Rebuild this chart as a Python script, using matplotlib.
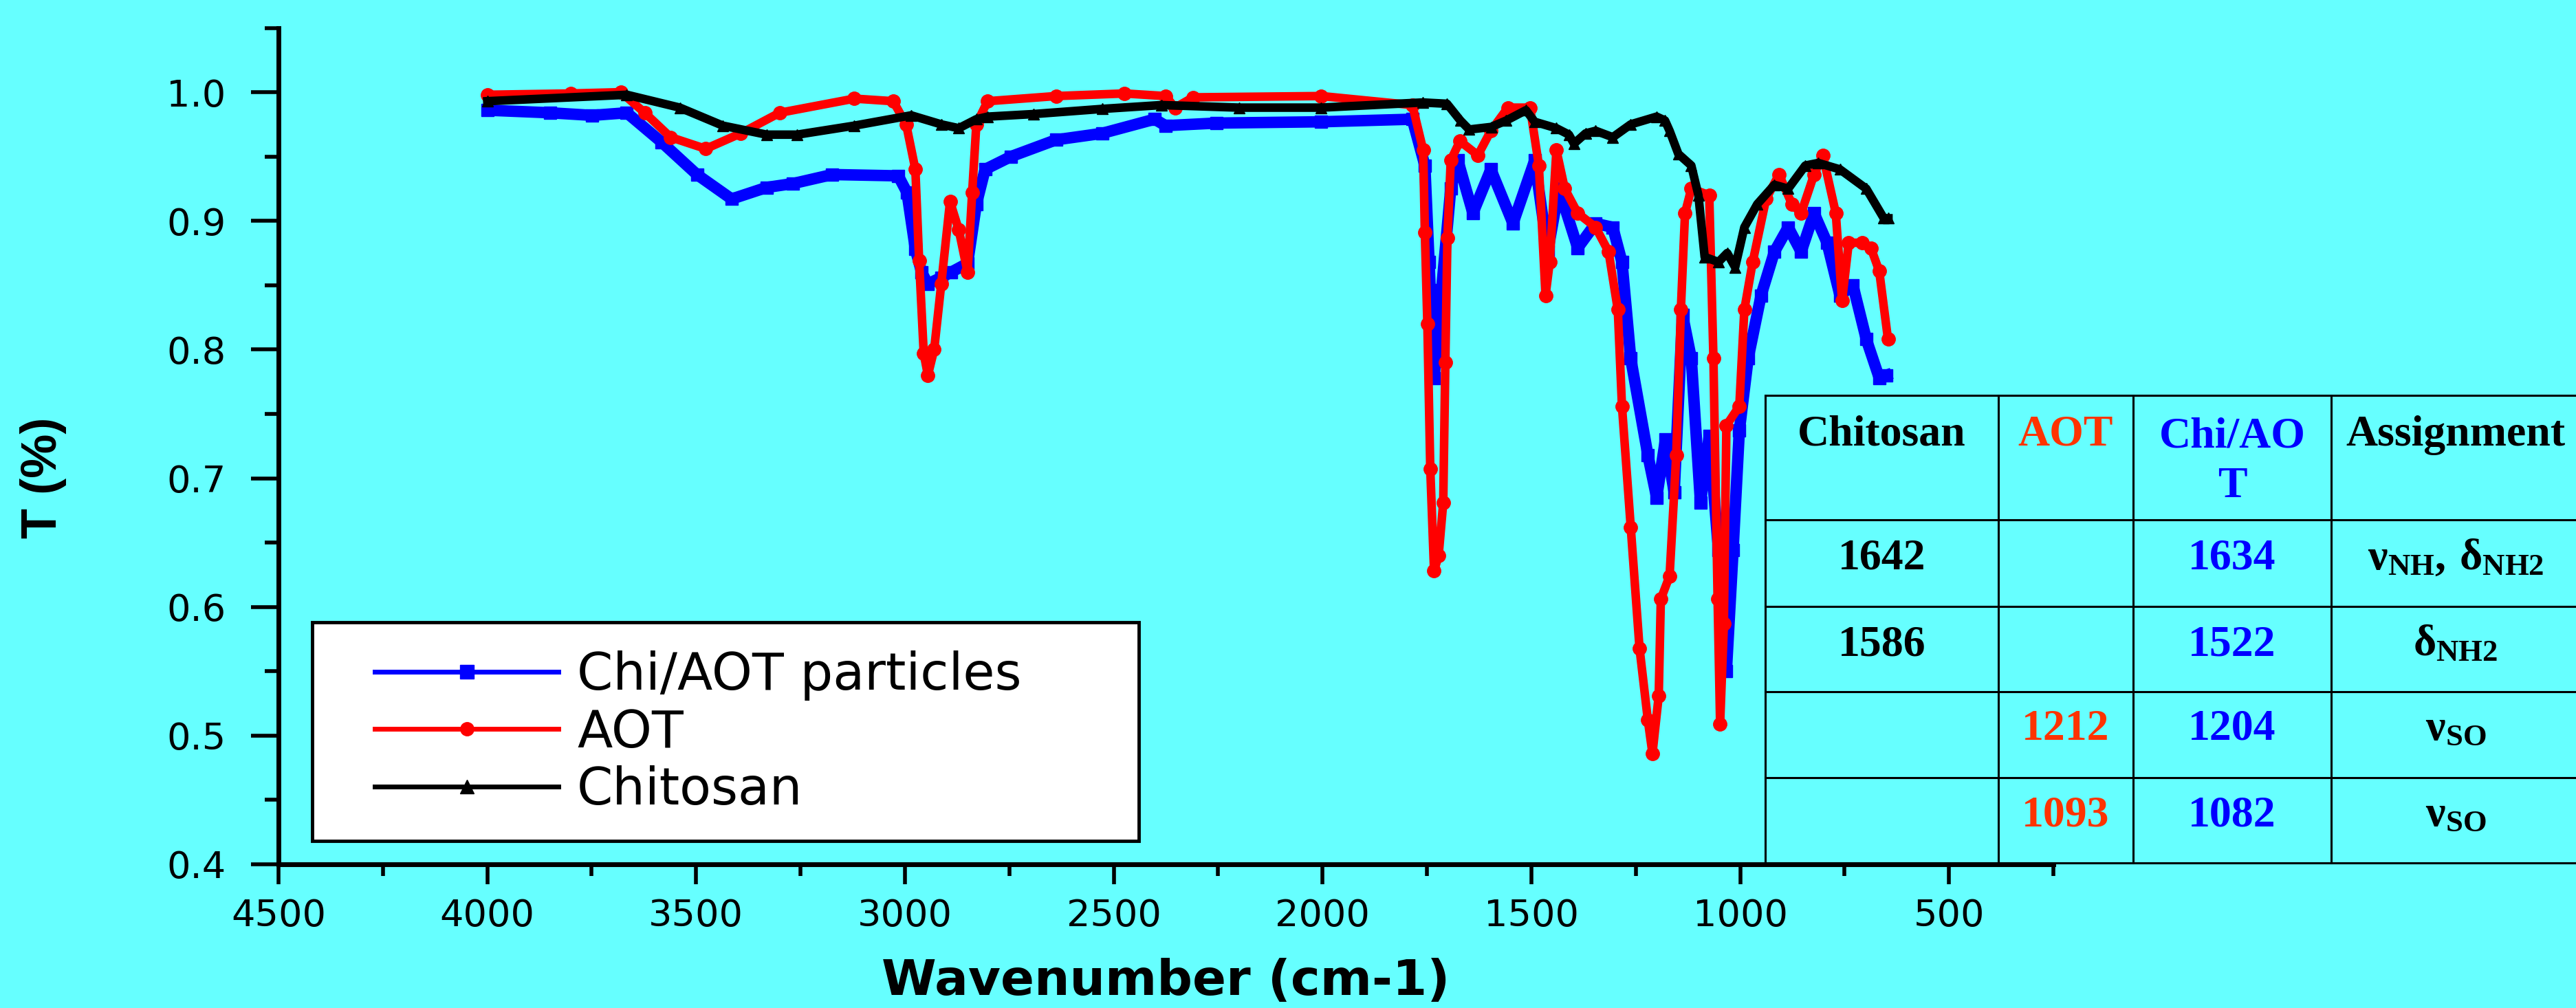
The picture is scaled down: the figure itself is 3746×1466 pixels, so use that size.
import numpy as np
import matplotlib
matplotlib.use('Agg')
import matplotlib.pyplot as plt
from matplotlib.patches import Rectangle
from matplotlib.lines import Line2D
from matplotlib.ticker import FixedLocator

# ---------------- data ----------------
chiaot_wn = [4000, 3850, 3749, 3666, 3582, 3498, 3415, 3331, 3268, 3174, 3016, 2995,
             2975, 2960, 2945, 2913, 2890, 2850, 2829, 2808, 2746, 2638, 2528, 2402,
             2376, 2254, 2003, 1785, 1755, 1745, 1733, 1715, 1693, 1676, 1640, 1597,
             1544, 1492, 1461, 1434, 1389, 1346, 1305, 1283, 1262, 1221, 1200, 1179,
             1158, 1138, 1117, 1095, 1074, 1052, 1033, 1017, 1002, 981, 950, 918, 885,
             854, 823, 792, 761, 730, 698, 667, 650]
chiaot_t = [0.986, 0.984, 0.982, 0.984, 0.961, 0.936, 0.917, 0.926, 0.929, 0.936, 0.935, 0.922,
            0.878, 0.860, 0.851, 0.856, 0.860, 0.867, 0.913, 0.940, 0.950, 0.963, 0.968, 0.979,
            0.974, 0.976, 0.977, 0.979, 0.943, 0.868, 0.778, 0.846, 0.925, 0.947, 0.906, 0.940,
            0.898, 0.947, 0.876, 0.925, 0.879, 0.898, 0.895, 0.868, 0.793, 0.718, 0.685, 0.730,
            0.689, 0.827, 0.793, 0.681, 0.733, 0.644, 0.550, 0.644, 0.737, 0.793, 0.842, 0.876, 0.895,
            0.876, 0.906, 0.883, 0.842, 0.850, 0.808, 0.778, 0.780]

aot_wn = [4000, 3800, 3680, 3623, 3561, 3477, 3393, 3300, 3121, 3028, 2997, 2975, 2966,
          2955, 2945, 2930, 2913, 2892, 2871, 2850, 2839, 2829, 2802, 2638, 2474, 2376,
          2353, 2310, 2003, 1785, 1759, 1755, 1749, 1742, 1733, 1722, 1711, 1706, 1701,
          1693, 1671, 1628, 1597, 1556, 1503, 1482, 1466, 1456, 1440, 1420, 1389, 1346,
          1315, 1293, 1283, 1262, 1241, 1221, 1210, 1195, 1190, 1169, 1153, 1142, 1132,
          1117, 1074, 1064, 1054, 1048, 1039, 1033, 1002, 990, 970, 938, 907, 876, 854,
          823, 802, 771, 756, 740, 707, 687, 667, 646]
aot_t = [0.998, 0.999, 1.000, 0.984, 0.965, 0.956, 0.968, 0.984, 0.995, 0.993, 0.975, 0.940, 0.869,
         0.797, 0.780, 0.800, 0.851, 0.915, 0.893, 0.860, 0.922, 0.975, 0.993, 0.997, 0.999, 0.997,
         0.988, 0.996, 0.997, 0.990, 0.955, 0.891, 0.820, 0.707, 0.628, 0.640, 0.681, 0.790, 0.887,
         0.947, 0.962, 0.951, 0.970, 0.988, 0.988, 0.943, 0.842, 0.868, 0.955, 0.925, 0.906, 0.895,
         0.876, 0.831, 0.756, 0.662, 0.568, 0.512, 0.486, 0.531, 0.606, 0.624, 0.718, 0.831, 0.906,
         0.925, 0.920, 0.793, 0.606, 0.509, 0.587, 0.741, 0.756, 0.831, 0.868, 0.917, 0.936, 0.913, 0.906,
         0.936, 0.951, 0.906, 0.838, 0.883, 0.883, 0.879, 0.861, 0.808]

chitosan_wn = [4000, 3666, 3539, 3436, 3331, 3258, 3121, 2985, 2913, 2871, 2829, 2802,
               2692, 2528, 2385, 2200, 2003, 1760, 1702, 1670, 1649, 1596, 1560, 1513,
               1492, 1440, 1410, 1398, 1370, 1346, 1305, 1262, 1200, 1180, 1169, 1148,
               1117, 1100, 1085, 1052, 1031, 1012, 990, 959, 918, 885, 844, 813, 761,
               698, 656, 645]
chitosan_t = [0.993, 0.998, 0.988, 0.974, 0.967, 0.967, 0.974, 0.982, 0.975, 0.972, 0.979, 0.981,
              0.983, 0.987, 0.990, 0.988, 0.988, 0.992, 0.991, 0.978, 0.971, 0.973, 0.978, 0.986,
              0.977, 0.972, 0.967, 0.960, 0.968, 0.970, 0.965, 0.975, 0.981, 0.978, 0.970, 0.952,
              0.943, 0.920, 0.872, 0.868, 0.875, 0.864, 0.895, 0.913, 0.928, 0.925, 0.943, 0.945, 0.940,
              0.925, 0.902, 0.902]

legend_labels = ['Chi/AOT particles', 'AOT', 'Chitosan']
x_major_ticks = [4500, 4000, 3500, 3000, 2500, 2000, 1500, 1000, 500]
x_minor_ticks = [4250, 3750, 3250, 2750, 2250, 1750, 1250, 750, 250]
y_major_ticks = [0.4, 0.5, 0.6, 0.7, 0.8, 0.9, 1.0]
y_minor_ticks = [0.45, 0.55, 0.65, 0.75, 0.85, 0.95, 1.05]

table_headers = ['Chitosan', 'AOT', 'Chi/AO\nT', 'Assignment']
chitosan_bands = ['1642', '1586', '', '']
aot_bands = ['', '', '1212', '1093']
chiaot_bands = ['1634', '1522', '1204', '1082']
assignments = [r'$ν_{NH},\,δ_{NH2}$', r'$δ_{NH2}$', r'$ν_{SO}$', r'$ν_{SO}$']

# ---------------- style ----------------
BG = '#66FFFF'
BLUE = '#0000FF'
RED = '#FF0000'
TXT_RED = '#FF3300'

plt.rcParams['font.family'] = ['DejaVu Sans']
plt.rcParams['mathtext.fontset'] = 'custom'
plt.rcParams['mathtext.rm'] = 'Liberation Serif:bold'
plt.rcParams['mathtext.bf'] = 'Liberation Serif:bold'
plt.rcParams['mathtext.it'] = 'Liberation Serif:bold'
plt.rcParams['mathtext.default'] = 'bf'

W, H = 3746, 1466
fig = plt.figure(figsize=(W / 100, H / 100), dpi=100, facecolor=BG)

ax_l, ax_r, ax_t, ax_b = 405, 2986, 40.5, 1257
ax = fig.add_axes([ax_l / W, 1 - ax_b / H, (ax_r - ax_l) / W, (ax_b - ax_t) / H])
ax.set_facecolor(BG)

ax.plot(chiaot_wn, chiaot_t, color=BLUE, lw=12, marker='s', ms=13, mec=BLUE, mfc=BLUE,
        label=legend_labels[0], zorder=2)
ax.plot(aot_wn, aot_t, color=RED, lw=9, marker='o', ms=14, mec=RED, mfc=RED,
        label=legend_labels[1], zorder=3)
ax.plot(chitosan_wn, chitosan_t, color='black', lw=9, marker='^', ms=12, mec='black', mfc='black',
        label=legend_labels[2], zorder=4)

ax.set_xlim(4500, 250)
ax.set_ylim(0.4, 1.05)

ax.xaxis.set_major_locator(FixedLocator(x_major_ticks))
ax.xaxis.set_minor_locator(FixedLocator(x_minor_ticks))
ax.yaxis.set_major_locator(FixedLocator(y_major_ticks))
ax.yaxis.set_minor_locator(FixedLocator(y_minor_ticks))
ax.set_xticklabels([str(v) for v in x_major_ticks])
ax.set_yticklabels(['%.1f' % v for v in y_major_ticks])

for s in ['top', 'right']:
    ax.spines[s].set_visible(False)
for s in ['left', 'bottom']:
    ax.spines[s].set_linewidth(5)
ax.tick_params(axis='y', which='major', direction='out', length=29, width=4, pad=26, labelsize=39)
ax.tick_params(axis='y', which='minor', direction='out', length=14.5, width=4)
ax.tick_params(axis='x', which='major', direction='out', length=21, width=4, pad=14, labelsize=39)
ax.tick_params(axis='x', which='minor', direction='out', length=12, width=4)

ax.set_xlabel('Wavenumber (cm-1)', fontsize=52, fontweight='bold')
ax.xaxis.set_label_coords(0.5, -0.112)
ax.set_ylabel('T (%)', fontsize=52, fontweight='bold', family='Liberation Sans')
ax.yaxis.label.set_va('center')
ax.yaxis.set_label_coords((63 - ax_l) / (ax_r - ax_l), (ax_b - 695) / (ax_b - ax_t))

# legend box
ah = ax_b - ax_t
aw = ax_r - ax_l
box = Rectangle(((454 - ax_l) / aw, (ax_b - 1223) / ah), (1656 - 454) / aw, (1223 - 905) / ah,
                transform=ax.transAxes, facecolor='white', edgecolor='black', lw=3.5, zorder=10)
ax.add_patch(box)
leg = ax.legend(loc='center left', bbox_to_anchor=((545 - ax_l) / aw, (ax_b - 1066) / ah),
                frameon=False, fontsize=54, borderpad=0, borderaxespad=0,
                handlelength=3.56, handletextpad=0.36, labelspacing=0.14)
leg.set_zorder(11)
for ln in leg.get_lines():
    ln.set_linewidth(5)
    ln.set_markersize(14)

# ---------------- table overlay (pixel coordinates) ----------------
ov = fig.add_axes([0, 0, 1, 1], zorder=5)
ov.set_xlim(0, W)
ov.set_ylim(H, 0)
ov.axis('off')
ov.patch.set_alpha(0)

col_edges = [2567, 2906, 3102, 3390, 3752]
row_edges = [575, 756, 882, 1006, 1131, 1255]
for y in row_edges:
    ov.add_line(Line2D([col_edges[0], col_edges[-1]], [y, y], color='black', lw=2.2))
for x in col_edges[:-1]:
    ov.add_line(Line2D([x, x], [row_edges[0], row_edges[-1]], color='black', lw=2.2))

centers = [(col_edges[i] + col_edges[i + 1]) / 2 for i in range(4)]
head_colors = ['black', TXT_RED, BLUE, 'black']
tfont = dict(family='Liberation Serif', fontweight='bold', fontsize=46, ha='center')
for c, txt, col in zip(centers, table_headers, head_colors):
    if '\n' in txt:
        ov.text(c, 723, txt, color=col, va='baseline', linespacing=1.33, **tfont)
    else:
        ov.text(c, 648, txt, color=col, va='baseline', **tfont)

baselines = [828, 953, 1076, 1201]
for i, yb in enumerate(baselines):
    ov.text(centers[0], yb, chitosan_bands[i], color='black', va='baseline', **tfont)
    ov.text(centers[1], yb, aot_bands[i], color=TXT_RED, va='baseline', **tfont)
    ov.text(centers[2], yb, chiaot_bands[i], color=BLUE, va='baseline', **tfont)
    ov.text(centers[3], yb, assignments[i], color='black', va='baseline', **tfont)

fig.savefig('out.png', dpi=100, facecolor=BG)
